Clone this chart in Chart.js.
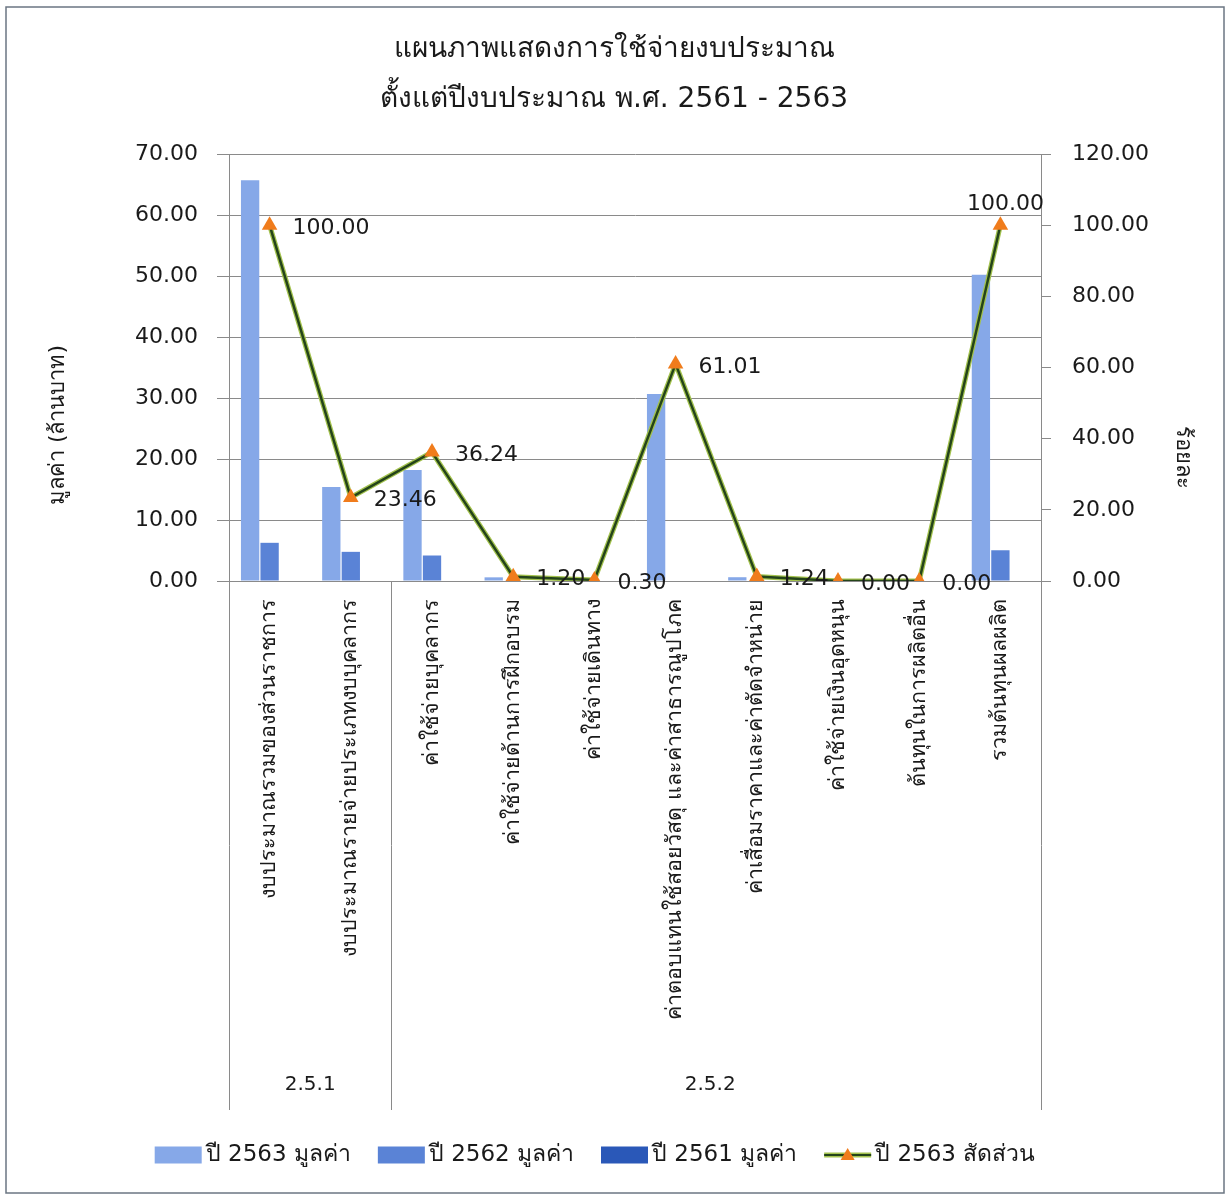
<!DOCTYPE html>
<html>
<head>
<meta charset="utf-8">
<script src="https://cdn.jsdelivr.net/npm/chart.js@4.4.1/dist/chart.umd.min.js"></script>
<style>
  html, body { margin: 0; padding: 0; background: #ffffff; }
  #wrap { width: 1228px; height: 1200px; }
</style>
</head>
<body>
<div id="wrap"><canvas id="budgetChart" width="1228" height="1200"></canvas></div>
<script>
// ---- data ----
const titleLines = ['แผนภาพแสดงการใช้จ่ายงบประมาณ', 'ตั้งแต่ปีงบประมาณ พ.ศ. 2561 - 2563'];
const categories = [
  'งบประมาณรวมของส่วนราชการ',
  'งบประมาณรายจ่ายประเภทงบบุคลากร',
  'ค่าใช้จ่ายบุคลากร',
  'ค่าใช้จ่ายด้านการฝึกอบรม',
  'ค่าใช้จ่ายเดินทาง',
  'ค่าตอบแทนใช้สอยวัสดุ และค่าสาธารณูปโภค',
  'ค่าเสื่อมราคาและค่าตัดจำหน่าย',
  'ค่าใช้จ่ายเงินอุดหนุน',
  'ต้นทุนในการผลิตอื่น',
  'รวมต้นทุนผลผลิต'
];
const groupLabels = ['2.5.1', '2.5.2'];
const groupSizes = [2, 8];
const seriesNames = ['ปี 2563 มูลค่า', 'ปี 2562 มูลค่า', 'ปี 2561 มูลค่า', 'ปี 2563 สัดส่วน'];
const value2563 = [65.70, 15.41, 18.20, 0.60, 0.15, 30.64, 0.62, 0.00, 0.00, 50.22];
const value2562 = [6.26, 4.78, 4.18, 0.00, 0.00, 0.00, 0.00, 0.00, 0.00, 5.04];
const value2561 = [0, 0, 0, 0, 0, 0, 0, 0, 0, 0];
const share2563 = [100.00, 23.46, 36.24, 1.20, 0.30, 61.01, 1.24, 0.00, 0.00, 100.00];
const valueAxisTicks = { min: 0, max: 70, step: 10 };
const shareAxisTicks = { min: 0, max: 120, step: 20 };
const axisTitles = ['มูลค่า (ล้านบาท)', 'ร้อยละ'];

// ---- styling ----
const FONT = "'DejaVu Sans', 'Noto Sans', sans-serif";
const INK = '#1a1a1a';
const GRID = '#8a8a8a';
const COLORS = ['#86a8e8', '#5a83d6', '#2a58b8'];
const LINE_COLOR = '#24441a';
const LINE_HALO = '#a3c24e';
const MARKER = '#f07c1c';

// Page background, outer frame, axis titles, group axis and legend
const decorations = {
  id: 'decorations',
  beforeDraw(chart) {
    const ctx = chart.ctx;
    ctx.save();
    ctx.fillStyle = '#ffffff';
    ctx.fillRect(0, 0, chart.width, chart.height);
    ctx.restore();
  },
  afterDraw(chart) {
    const ctx = chart.ctx;
    const area = chart.chartArea;
    const xs = chart.scales.x;
    ctx.save();

    // outer frame
    ctx.strokeStyle = '#6b7682';
    ctx.lineWidth = 1.5;
    ctx.strokeRect(6, 7, 1218, 1186);

    // axis titles
    ctx.fillStyle = INK;
    ctx.font = '22px ' + FONT;
    ctx.textAlign = 'center';
    ctx.textBaseline = 'middle';
    ctx.save();
    ctx.translate(58, 425);
    ctx.rotate(-Math.PI / 2);
    ctx.fillText(axisTitles[0], 0, 0);
    ctx.restore();
    ctx.save();
    ctx.translate(1183, 457);
    ctx.rotate(Math.PI / 2);
    ctx.fillText(axisTitles[1], 0, 0);
    ctx.restore();

    // group level of the category axis
    const half = (xs.getPixelForValue(1) - xs.getPixelForValue(0)) / 2;
    const lineBottom = 1110;
    ctx.strokeStyle = GRID;
    ctx.lineWidth = 1;
    let start = 0;
    const bounds = [area.left];
    groupSizes.forEach((n, g) => {
      const end = start + n - 1;
      const right = end === categories.length - 1 ? area.right : xs.getPixelForValue(end) + half;
      bounds.push(right);
      const left = bounds[g];
      ctx.font = '20px ' + FONT;
      ctx.fillStyle = INK;
      ctx.fillText(groupLabels[g], (left + right) / 2 - (g === 1 ? 6 : 0), 1085);
      start += n;
    });
    bounds.forEach(bx => {
      const px = Math.round(bx) + 0.5;
      ctx.beginPath();
      ctx.moveTo(px, area.bottom);
      ctx.lineTo(px, lineBottom);
      ctx.stroke();
    });

    // legend
    const ds = chart.data.datasets;
    const items = [0, 1, 2, 4].map(i => ds[i]);
    ctx.font = '23px ' + FONT;
    const boxW = 47, boxH = 17, gapBox = 4, gapItem = 27;
    const widths = items.map(d => boxW + gapBox + ctx.measureText(d.label).width);
    const total = widths.reduce((a, b) => a + b, 0) + gapItem * (items.length - 1);
    let lx = 595 - total / 2;
    const ly = 1155;
    items.forEach((d, k) => {
      if (d.type === 'line') {
        ctx.strokeStyle = LINE_HALO;
        ctx.lineWidth = 5;
        ctx.beginPath(); ctx.moveTo(lx, ly); ctx.lineTo(lx + boxW, ly); ctx.stroke();
        ctx.strokeStyle = LINE_COLOR;
        ctx.lineWidth = 2;
        ctx.beginPath(); ctx.moveTo(lx, ly); ctx.lineTo(lx + boxW, ly); ctx.stroke();
        const cx = lx + boxW / 2;
        ctx.fillStyle = MARKER;
        ctx.beginPath();
        ctx.moveTo(cx, ly - 7); ctx.lineTo(cx + 7, ly + 5); ctx.lineTo(cx - 7, ly + 5);
        ctx.closePath(); ctx.fill();
      } else {
        ctx.fillStyle = d.backgroundColor;
        ctx.fillRect(lx, ly - boxH / 2, boxW, boxH);
      }
      ctx.fillStyle = INK;
      ctx.textAlign = 'left';
      ctx.fillText(d.label, lx + boxW + gapBox, ly);
      lx += widths[k] + gapItem;
    });
    ctx.restore();
  }
};

// value labels beside the share markers
const shareLabels = {
  id: 'shareLabels',
  afterDatasetsDraw(chart) {
    const idx = chart.data.datasets.findIndex(d => d.id === 'share');
    const meta = chart.getDatasetMeta(idx);
    const data = chart.data.datasets[idx].data;
    const ctx = chart.ctx;
    ctx.save();
    ctx.font = '22px ' + FONT;
    ctx.fillStyle = INK;
    ctx.textBaseline = 'middle';
    meta.data.forEach((pt, i) => {
      const txt = Number(data[i]).toFixed(2);
      if (i === data.length - 1) {
        ctx.textAlign = 'center';
        ctx.fillText(txt, pt.x + 5, pt.y - 21);
      } else {
        ctx.textAlign = 'left';
        ctx.fillText(txt, pt.x + 23, pt.y + 3);
      }
    });
    ctx.restore();
  }
};

const tickFmt = v => Number(v).toFixed(2);

new Chart(document.getElementById('budgetChart'), {
  type: 'bar',
  data: {
    labels: categories,
    datasets: [
      { type: 'bar', label: seriesNames[0], data: value2563, backgroundColor: COLORS[0], yAxisID: 'y', order: 2 },
      { type: 'bar', label: seriesNames[1], data: value2562, backgroundColor: COLORS[1], yAxisID: 'y', order: 2 },
      { type: 'bar', label: seriesNames[2], data: value2561, backgroundColor: COLORS[2], yAxisID: 'y', order: 2 },
      { type: 'line', label: seriesNames[3] + ' halo', data: share2563, yAxisID: 'y1', order: 1,
        borderColor: LINE_HALO, borderWidth: 5, pointRadius: 0, tension: 0, fill: false },
      { id: 'share', type: 'line', label: seriesNames[3], data: share2563, yAxisID: 'y1', order: 0,
        borderColor: LINE_COLOR, borderWidth: 2.5, tension: 0, fill: false,
        pointStyle: 'triangle', pointRadius: 9, pointBackgroundColor: MARKER, pointBorderWidth: 0,
        pointBorderColor: MARKER }
    ]
  },
  options: {
    responsive: false,
    animation: false,
    devicePixelRatio: 1,
    layout: { padding: { top: 0, left: 0, right: 0, bottom: 0 } },
    datasets: { bar: { categoryPercentage: 0.72, barPercentage: 0.94 } },
    plugins: {
      legend: { display: false },
      tooltip: { enabled: false },
      title: {
        display: true,
        text: titleLines,
        color: INK,
        font: { family: FONT, size: 28, weight: 'normal', lineHeight: 50 / 28 },
        padding: { top: 25, bottom: 29 }
      }
    },
    scales: {
      x: {
        offset: true,
        grid: { display: false, drawTicks: false },
        border: { display: false },
        ticks: { autoSkip: false, minRotation: 90, maxRotation: 90, padding: 18,
                 color: INK, font: { family: FONT, size: 21.5 } },
        afterFit(s) { s.height = 619; }
      },
      y: {
        position: 'left',
        min: valueAxisTicks.min, max: valueAxisTicks.max,
        ticks: { stepSize: valueAxisTicks.step, callback: tickFmt, padding: 19,
                 color: INK, font: { family: FONT, size: 22 } },
        grid: { color: GRID, lineWidth: 1, tickLength: 12 },
        border: { display: true, color: GRID, width: 1 },
        afterFit(s) { s.width = 229; }
      },
      y1: {
        position: 'right',
        min: shareAxisTicks.min, max: shareAxisTicks.max,
        ticks: { stepSize: shareAxisTicks.step, callback: tickFmt, padding: 21,
                 color: INK, font: { family: FONT, size: 22 } },
        grid: { drawOnChartArea: false, color: GRID, tickLength: 10 },
        border: { display: true, color: GRID, width: 1 },
        afterFit(s) { s.width = 187; }
      }
    }
  },
  plugins: [decorations, shareLabels]
});
</script>
</body>
</html>
